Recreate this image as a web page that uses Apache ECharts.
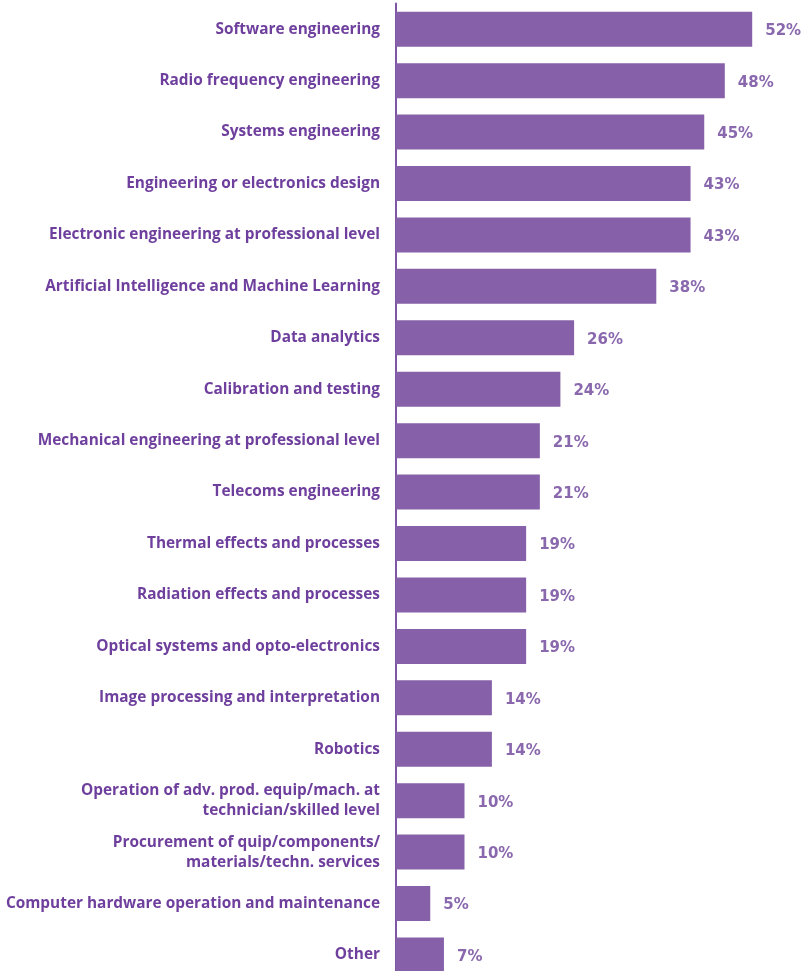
<!DOCTYPE html>
<html>
<head>
<meta charset="utf-8">
<script src="https://cdn.jsdelivr.net/npm/echarts@6/dist/echarts.min.js"></script>
<style>html,body{margin:0;padding:0;background:#fff;overflow:hidden;width:807px;height:971px;}#c{width:807px;height:981px;}</style>
</head>
<body>
<div id="c"></div>
<script>
const categories = [
  "Software engineering",
  "Radio frequency engineering",
  "Systems engineering",
  "Engineering or electronics design",
  "Electronic engineering at professional level",
  "Artificial Intelligence and Machine Learning",
  "Data analytics",
  "Calibration and testing",
  "Mechanical engineering at professional level",
  "Telecoms engineering",
  "Thermal effects and processes",
  "Radiation effects and processes",
  "Optical systems and opto-electronics",
  "Image processing and interpretation",
  "Robotics",
  "Operation of adv. prod. equip/mach. at\ntechnician/skilled level",
  "Procurement of quip/components/\nmaterials/techn. services",
  "Computer hardware operation and maintenance",
  "Other"
];
const values = [52, 48, 45, 43, 43, 38, 26, 24, 21, 21, 19, 19, 19, 14, 14, 10, 10, 5, 7];

const chart = echarts.init(document.getElementById('c'), null, {renderer: 'canvas', width: 807, height: 981});
chart.setOption({
  animation: false,
  grid: {left: 396, top: 3.5, right: 0, height: 977.2, containLabel: false},
  xAxis: {
    type: 'value', min: 0, max: 60, show: false
  },
  yAxis: {
    type: 'category', data: categories, inverse: true,
    axisLine: {show: true, lineStyle: {color: '#7d56a6', width: 2}},
    axisTick: {show: false},
    axisLabel: {
      color: '#6e3f9d', fontFamily: 'Open Sans', fontWeight: 'bold', fontSize: 15.4,
      margin: 16, lineHeight: 20, align: 'right'
    }
  },
  series: [{
    type: 'bar', data: values, barWidth: 35,
    itemStyle: {color: '#8661a9'},
    label: {
      show: true, position: 'right', distance: 13, offset: [0, 2],
      formatter: '{c}%', color: '#8a68ad', fontFamily: 'DejaVu Sans', fontWeight: 'bold', fontSize: 15
    }
  }]
});
</script>
</body>
</html>
